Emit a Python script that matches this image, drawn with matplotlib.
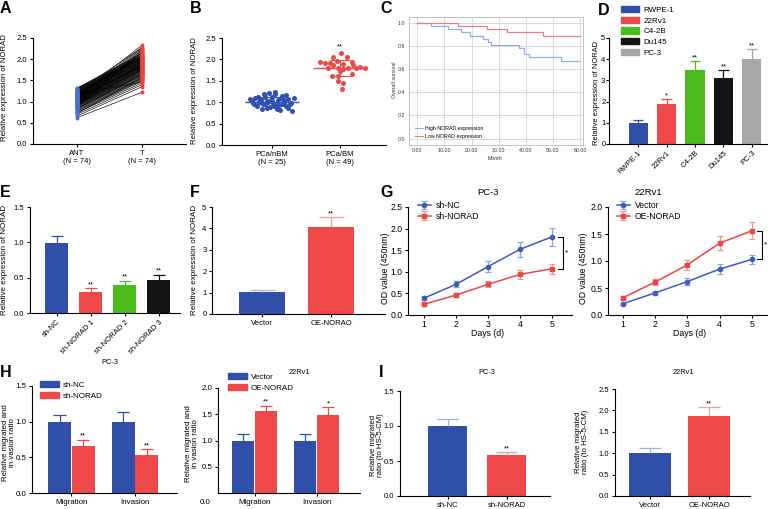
import numpy as np
import matplotlib
matplotlib.use("Agg")
import matplotlib.pyplot as plt
from matplotlib.patches import Patch
from matplotlib.lines import Line2D

plt.rcParams["font.family"] = ["Liberation Sans", "DejaVu Sans"]

# ---------------- data ----------------
# A: paired ANT / T expression (74 pairs)
ant = [0.62, 0.66, 0.70, 0.74, 0.76, 0.78, 0.80, 0.82, 0.84, 0.85,
       0.86, 0.88, 0.89, 0.90, 0.91, 0.92, 0.93, 0.94, 0.95, 0.96,
       0.97, 0.98, 0.99, 1.00, 1.00, 1.01, 1.02, 1.03, 1.04, 1.05,
       1.06, 1.07, 1.08, 1.09, 1.10, 1.11, 1.12, 1.13, 1.14, 1.15,
       1.16, 1.17, 1.18, 1.19, 1.20, 1.21, 1.22, 1.23, 1.24, 1.25,
       1.26, 1.27, 1.28, 1.29, 1.30, 1.31, 1.32, 0.87, 0.93, 0.97,
       1.02, 1.06, 1.10, 1.14, 1.18, 0.83, 0.95, 1.04, 1.12, 1.20,
       0.72, 1.08, 1.16, 1.24]
tum = [1.22, 1.35, 1.40, 1.44, 1.48, 1.50, 1.52, 1.54, 1.56, 1.58,
       1.60, 1.62, 1.63, 1.65, 1.66, 1.68, 1.69, 1.70, 1.72, 1.73,
       1.74, 1.75, 1.76, 1.78, 1.79, 1.80, 1.81, 1.82, 1.83, 1.84,
       1.85, 1.86, 1.87, 1.88, 1.89, 1.90, 1.91, 1.92, 1.93, 1.94,
       1.95, 1.96, 1.97, 1.98, 1.99, 2.00, 2.01, 2.02, 2.03, 2.04,
       2.05, 2.06, 2.07, 2.08, 2.10, 2.12, 2.14, 2.16, 2.18, 2.20,
       2.22, 2.25, 2.28, 2.33, 1.46, 1.64, 1.77, 1.87, 1.95, 2.02,
       1.57, 1.83, 2.09, 2.27]
a_labels = ["ANT\n(N = 74)", "T\n(N = 74)"]

# B: scatter (offset within category, value)
nbm_dx = [-0.33, -0.28, -0.25, -0.22, -0.18, -0.15, -0.12, -0.10, -0.07, -0.05,
          -0.03, 0.00, 0.02, 0.04, 0.07, 0.09, 0.12, 0.14, 0.17, 0.20,
          0.23, 0.26, 0.29, 0.32, -0.30, -0.20, -0.14, -0.08, -0.02, 0.05,
          0.11, 0.18, 0.24, -0.26, -0.16, -0.06, 0.03, 0.13, 0.21, 0.28,
          -0.10, 0.00, 0.08, -0.19, 0.16]
nbm_y = [1.08, 0.97, 1.10, 0.92, 1.05, 0.85, 1.18, 0.95, 1.02, 1.22,
         0.88, 1.12, 0.99, 1.25, 0.93, 1.06, 0.82, 1.15, 1.00, 0.90,
         1.08, 0.96, 0.80, 1.10, 1.02, 1.13, 0.98, 0.86, 1.05, 1.19,
         0.94, 1.04, 0.87, 0.95, 1.07, 1.00, 0.91, 1.09, 1.16, 0.97,
         1.11, 1.03, 0.84, 1.00, 0.95]
bm_dx = [0.01, -0.10, 0.10, -0.30, -0.22, -0.15, -0.05, 0.05, 0.17, -0.10,
         0.19, -0.03, 0.05, 0.12, 0.30, 0.24, 0.00, -0.12, -0.03, -0.18,
         -0.03, 0.05, 0.03, 0.18, 0.36]
bm_y = [2.15, 2.06, 2.06, 1.93, 1.92, 1.91, 1.96, 1.90, 1.94, 1.87,
        1.86, 1.79, 1.77, 1.79, 1.82, 1.79, 1.73, 1.62, 1.61, 1.80,
        1.50, 1.46, 1.30, 1.65, 1.81]
b_labels = ["PCa/nBM\n(N = 25)", "PCa/BM\n(N = 49)"]

# C: Kaplan-Meier steps
high_t = [0, 5.0, 11.2, 16.1, 19.4, 24.1, 26.2, 27.1, 37.5, 39.5, 41.3, 53.0, 60]
high_s = [1.0, 0.971, 0.943, 0.917, 0.886, 0.857, 0.83, 0.806, 0.78, 0.73, 0.70, 0.67, 0.67]
low_t = [0, 15.1, 25.8, 33.0, 46.2, 60]
low_s = [1.0, 0.971, 0.943, 0.917, 0.886, 0.886]

# D: cell lines
d_cells = ["RWPE-1", "22Rv1", "C4-2B", "Du145", "PC-3"]
d_vals = [1.00, 1.88, 3.51, 3.13, 4.01]
d_err = [0.13, 0.24, 0.39, 0.35, 0.46]
d_star = ["", "*", "**", "**", "**"]

# E: knockdown
e_names = ["sh-NC", "sh-NORAD 1", "sh-NORAD 2", "sh-NORAD 3"]
e_vals = [0.99, 0.30, 0.40, 0.47]
e_err = [0.10, 0.05, 0.055, 0.07]
e_star = ["", "**", "**", "**"]

# F: overexpression
f_names = ["Vector", "OE-NORAO"]
f_vals = [1.02, 4.07]
f_err = [0.11, 0.45]

# G: CCK-8
days = [1, 2, 3, 4, 5]
g_nc = [0.39, 0.71, 1.12, 1.52, 1.81]
g_nc_err = [0.05, 0.07, 0.13, 0.17, 0.21]
g_sh = [0.25, 0.46, 0.71, 0.94, 1.07]
g_sh_err = [0.03, 0.05, 0.07, 0.10, 0.11]
g_vec = [0.21, 0.41, 0.62, 0.85, 1.03]
g_vec_err = [0.02, 0.04, 0.06, 0.09, 0.08]
g_oe = [0.32, 0.61, 0.93, 1.33, 1.56]
g_oe_err = [0.03, 0.06, 0.09, 0.13, 0.16]

# H: migration / invasion
h_groups = ["Migration", "Invasion"]
h_nc = [1.00, 1.00]
h_nc_err = [0.09, 0.13]
h_sh = [0.66, 0.535]
h_sh_err = [0.085, 0.08]
h_sh_star = ["**", "**"]
h_vec = [1.00, 1.00]
h_vec_err = [0.12, 0.12]
h_oe = [1.57, 1.49]
h_oe_err = [0.09, 0.15]
h_oe_star = ["**", "*"]

# I: migrated ratio
i_pc3_names = ["sh-NC", "sh-NORAD"]
i_pc3_vals = [1.00, 0.58]
i_pc3_err = [0.10, 0.05]
i_rv_names = ["Vector", "OE-NORAO"]
i_rv_vals = [1.00, 1.86]
i_rv_err = [0.11, 0.22]

# ---------------- style ----------------
BLUE = "#2f4fa8"
RED = "#ee4848"
GREEN = "#4cbc1c"
BLACK = "#141414"
GRAY = "#a7a7a9"
LBLUE = "#9fb1e3"
LRED = "#f39a9a"

W, H = 776, 509
fig = plt.figure(figsize=(7.76, 5.09), dpi=100)


def px_ax(x0, y0, x1, y1):
    return fig.add_axes([x0 / W, 1 - y1 / H, (x1 - x0) / W, (y1 - y0) / H])


def prism(ax, size=5.5):
    ax.spines[["top", "right"]].set_visible(False)
    ax.spines[["left", "bottom"]].set_linewidth(0.8)
    ax.tick_params(width=0.8, length=2.5, labelsize=size, pad=1.5)


def ftext(x, y, s, **kw):
    fig.text(x / W, 1 - y / H, s, **kw)


def ylab(x, y, s, size=5.6, **kw):
    ftext(x, y, s, rotation=90, ha="center", va="center", fontsize=size, **kw)


def letter(x, y, s):
    ftext(x, y, s, fontsize=11.5, fontweight="bold", ha="left", va="baseline")


def bars(ax, pos, vals, errs, colors, ecolors, width, stars=None, size=5.5):
    ax.bar(pos, vals, width=width, color=colors, linewidth=0, zorder=2)
    for i, (p, v, e) in enumerate(zip(pos, vals, errs)):
        ec = ecolors[i] if isinstance(ecolors, list) else ecolors
        ax.vlines(p, v, v + e, color=ec, lw=0.9, zorder=3)
        ax.hlines(v + e, p - width * 0.27, p + width * 0.27, color=ec, lw=0.9, zorder=3)
        if stars and stars[i]:
            ax.text(p, v + e, stars[i], ha="center", va="bottom", fontsize=size)


# ---------------- A ----------------
ax = px_ax(33, 38, 186, 144)
prism(ax)
for a, t in zip(ant, tum):
    ax.plot([0, 1], [a, t], color="k", lw=0.45, zorder=1)
ax.scatter(np.zeros(len(ant)), ant, s=8, color="#4d6fcc", lw=0, zorder=3)
ax.scatter(np.ones(len(tum)), tum, s=8, color="#ef4444", lw=0, zorder=3)
ax.set_xlim(-0.677, 1.677)
ax.set_ylim(0, 2.5)
ax.set_xticks([0, 1])
ax.set_xticklabels(a_labels)
ax.set_yticks(np.arange(0, 2.51, 0.5))
ylab(5, 88, "Relative expression of NORAD")

# ---------------- B ----------------
ax = px_ax(222, 38, 386, 145)
prism(ax)
ax.scatter(np.array(nbm_dx), nbm_y, s=13, color="#3050b4", lw=0, zorder=3)
ax.scatter(1 + np.array(bm_dx), bm_y, s=13, color="#ef4646", lw=0, zorder=3)
for c, yv, col in [(0, nbm_y, "#3050b4"), (1, bm_y, "#ef4646")]:
    m, sd = np.mean(yv), np.std(yv)
    ax.hlines(m, c - 0.4, c + 0.4, color=col, lw=1.0, zorder=2)
    ax.vlines(c, m - sd, m + sd, color=col, lw=0.8, zorder=2)
    ax.hlines([m - sd, m + sd], c - 0.15, c + 0.15, color=col, lw=0.8, zorder=2)
ax.text(1, 2.22, "**", ha="center", va="bottom", fontsize=5.5)
ax.set_xlim(-0.735, 1.676)
ax.set_ylim(0, 2.5)
ax.set_xticks([0, 1])
ax.set_xticklabels(b_labels)
ax.set_yticks(np.arange(0, 2.51, 0.5))
ylab(194, 91, "Relative expression of NORAD")

# ---------------- C ----------------
ax = px_ax(409, 17, 583, 145)
ax.step(high_t, high_s, where="post", color="#8fb0e0", lw=0.9)
ax.step(low_t, low_s, where="post", color="#e57f86", lw=0.9)
ax.set_xlim(-3.06, 61.1)
ax.set_ylim(-0.056, 1.049)
ax.set_xticks(np.arange(0, 61, 10))
ax.set_xticklabels(["%.2f" % v for v in np.arange(0, 61, 10)])
ax.set_yticks(np.arange(0, 1.01, 0.2))
ax.set_yticklabels(["%.1f" % v for v in np.arange(0, 1.01, 0.2)])
ax.grid(color="#d4d4d4", lw=0.6)
ax.set_axisbelow(True)
for s in ax.spines.values():
    s.set_color("#b8b8b8")
    s.set_linewidth(0.6)
ax.tick_params(length=0, labelsize=3.8, pad=2.5, labelcolor="#333333")
ax.legend([Line2D([], [], color="#8fb0e0", lw=0.8), Line2D([], [], color="#e57f86", lw=0.8)],
          ["High NORAD expression", "Low NORAD expression"],
          loc="lower left", bbox_to_anchor=(0.02, 0.03), frameon=False, fontsize=3.8,
          handlelength=1.5, handletextpad=0.4, labelspacing=0.45, borderpad=0)
ylab(394, 80, "Overall survival", size=3.8, color="#333333")
ftext(495, 158, "Month", ha="center", va="center", fontsize=3.8, color="#333333")

# ---------------- D ----------------
ax = px_ax(609, 38, 767, 144)
prism(ax)
ax.tick_params(axis="y", length=2, pad=0.6)
d_cols = [BLUE, RED, GREEN, BLACK, GRAY]
bars(ax, np.arange(5), d_vals, d_err, d_cols, d_cols, 0.67, d_star)
ax.set_xlim(-1.02, 4.53)
ax.set_ylim(0, 5)
ax.set_xticks(np.arange(5))
ax.set_xticklabels(d_cells, rotation=45, ha="right", rotation_mode="anchor")
ax.set_yticks(range(6))
fig.legend([Patch(color=c) for c in d_cols], d_cells, loc="upper left",
           bbox_to_anchor=(621 / W, 1 - 6 / H), frameon=False, fontsize=5.8,
           handlelength=2.2, handleheight=0.8, labelspacing=0.35, handletextpad=0.6,
           borderpad=0, borderaxespad=0)
ylab(597, 93, "Relative expression of NORAD", size=5.4)

# ---------------- E ----------------
ax = px_ax(30, 207, 180, 313)
prism(ax)
e_cols = [BLUE, RED, GREEN, BLACK]
bars(ax, np.arange(4), e_vals, e_err, e_cols, e_cols, 0.68, e_star)
ax.set_xlim(-0.79, 3.62)
ax.set_ylim(0, 1.5)
ax.set_xticks(np.arange(4))
ax.set_xticklabels(e_names, rotation=45, ha="right", rotation_mode="anchor")
ax.set_yticks(np.arange(0, 1.51, 0.5))
ylab(5, 260, "Relative expression of NORAD", size=5.8)

# ---------------- F ----------------
ax = px_ax(212, 207, 385, 314)
prism(ax)
bars(ax, np.arange(2), f_vals, f_err, [BLUE, RED], [LBLUE, LRED], 0.67, ["", "**"])
ax.set_xlim(-0.725, 1.78)
ax.set_ylim(0, 5)
ax.set_xticks(np.arange(2))
ax.set_xticklabels(f_names)
ax.set_yticks(range(6))
ylab(195, 260, "Relative expression of NORAD", size=5.8)

# ---------------- G ----------------
def growth(ax, a, a_err, b, b_err, names, top):
    ax.errorbar(days, a, yerr=a_err, color="#3d5bb8", ecolor="#8ea3dc", marker="o", ms=3,
                lw=1.1, elinewidth=0.9, capsize=2.5, capthick=0.9, label=names[0])
    ax.errorbar(days, b, yerr=b_err, color="#ef4444", ecolor="#f39595", marker="s", ms=3,
                lw=1.1, elinewidth=0.9, capsize=2.5, capthick=0.9, label=names[1])
    prism(ax, 6.2)
    ax.tick_params(axis="x", pad=1)
    ax.set_ylim(0, top)
    ax.set_xticks(days)
    ax.set_yticks(np.arange(0, top + 0.01, 0.5))


ax = px_ax(408, 207, 572, 315)
growth(ax, g_nc, g_nc_err, g_sh, g_sh_err, ["sh-NC", "sh-NORAD"], 2.5)
ax.set_xlim(0.5, 5.625)
hi, lo = max(g_nc[-1], g_sh[-1]), min(g_nc[-1], g_sh[-1])
ax.plot([5.19, 5.34, 5.34, 5.19], [hi, hi, lo, lo], color="k", lw=0.8, clip_on=False)
ax.text(5.45, (hi + lo) / 2, "*", ha="center", va="center", fontsize=6)
ax.legend(loc="upper left", bbox_to_anchor=(418 / W, 1 - 201 / H),
          bbox_transform=fig.transFigure, frameon=False, fontsize=6.2,
          handlelength=1.5, handletextpad=0.6, labelspacing=0.2, borderpad=0, borderaxespad=0)
ftext(488, 192, "PC-3", ha="center", va="center", fontsize=6.8)
ftext(488, 334, "Days (d)", ha="center", va="center", fontsize=6.3)
ylab(386, 268, "OD value (450nm)", size=6.3)

ax = px_ax(608, 207, 767, 315)
growth(ax, g_vec, g_vec_err, g_oe, g_oe_err, ["Vector", "OE-NORAD"], 2.0)
ax.set_xlim(0.535, 5.47)
hi, lo = max(g_vec[-1], g_oe[-1]), min(g_vec[-1], g_oe[-1])
ax.plot([5.155, 5.31, 5.31, 5.155], [hi, hi, lo, lo], color="k", lw=0.8, clip_on=False)
ax.text(5.42, (hi + lo) / 2, "*", ha="center", va="center", fontsize=6)
ax.legend(loc="upper left", bbox_to_anchor=(617 / W, 1 - 201 / H),
          bbox_transform=fig.transFigure, frameon=False, fontsize=6.2,
          handlelength=1.5, handletextpad=0.6, labelspacing=0.2, borderpad=0, borderaxespad=0)
ftext(648, 192, "22Rv1", ha="center", va="center", fontsize=6.8)
ftext(690, 334, "Days (d)", ha="center", va="center", fontsize=6.3)
ylab(584, 268, "OD value (450nm)", size=6.3)

# ---------------- H ----------------
def grouped(ax, a, a_err, b, b_err, b_star, names, colors, anchor):
    pos = np.arange(len(h_groups))
    bars(ax, pos - 0.185, a, a_err, colors[0], colors[0], 0.36)
    bars(ax, pos + 0.185, b, b_err, colors[1], colors[1], 0.36, b_star, 5.7)
    prism(ax, 5.7)
    ax.set_xticks(pos)
    ax.set_xticklabels(h_groups)
    ax.legend([Patch(color=colors[0]), Patch(color=colors[1])], names, loc="upper left",
              bbox_to_anchor=anchor, bbox_transform=fig.transFigure, frameon=False,
              fontsize=5.8, handlelength=2.3, handleheight=0.75, labelspacing=0.45,
              handletextpad=0.5, borderpad=0, borderaxespad=0)


ax = px_ax(32, 386, 177, 493)
grouped(ax, h_nc, h_nc_err, h_sh, h_sh_err, h_sh_star, ["sh-NC", "sh-NORAD"],
        [BLUE, RED], (40 / W, 1 - 381 / H))
ax.set_xlim(-0.62, 1.66)
ax.set_ylim(0, 1.5)
ax.set_yticks(np.arange(0, 1.51, 0.5))
ftext(110, 362, "PC-3", ha="center", va="center", fontsize=5.3)
ylab(9, 443, "Relative migrated and\nin vasion ratio", size=5.7, linespacing=1.05)

ax = px_ax(218, 388, 360, 493)
grouped(ax, h_vec, h_vec_err, h_oe, h_oe_err, h_oe_star, ["Vector", "OE-NORAD"],
        [BLUE, RED], (228 / W, 1 - 373 / H))
ax.set_xlim(-0.59, 1.70)
ax.set_ylim(0, 2.0)
ax.set_yticks([0.5, 1.0, 1.5, 2.0])
ftext(205, 503, "0.0", ha="center", va="center", fontsize=5.7)
ftext(299, 372, "22Rv1", ha="center", va="center", fontsize=5.3)
ylab(192, 444, "Relative migrated and\nin vasion ratio", size=5.7, linespacing=1.05)

# ---------------- I ----------------
ax = px_ax(400, 391, 550, 496)
prism(ax)
bars(ax, np.arange(2), i_pc3_vals, i_pc3_err, [BLUE, RED], [LBLUE, LRED], 0.66, ["", "**"])
ax.set_xlim(-0.81, 1.73)
ax.set_ylim(0, 1.5)
ax.set_xticks(np.arange(2))
ax.set_xticklabels(i_pc3_names)
ax.set_yticks(np.arange(0, 1.51, 0.5))
ftext(487, 372, "PC-3", ha="center", va="center", fontsize=5.3)
ylab(377, 445, "Relative migrated\nratio (to HS-5-CM)", size=5.6, linespacing=1.05)

ax = px_ax(615, 389, 750, 496)
prism(ax)
bars(ax, np.arange(2), i_rv_vals, i_rv_err, [BLUE, RED], [LBLUE, LRED], 0.71, ["", "**"])
ax.set_xlim(-0.59, 1.69)
ax.set_ylim(0, 2.5)
ax.set_xticks(np.arange(2))
ax.set_xticklabels(i_rv_names)
ax.set_yticks(np.arange(0, 2.51, 0.5))
ftext(683, 372, "22Rv1", ha="center", va="center", fontsize=5.3)
ylab(582, 442, "Relative migrated\nratio (to HS-5-CM)", size=5.7, linespacing=1.05)

# ---------------- panel letters ----------------
for s, x, y in [("A", 0, 13), ("B", 190, 13), ("C", 380, 13), ("D", 598, 15),
                ("E", 0, 197), ("F", 190, 197), ("G", 380, 197),
                ("H", 0, 377), ("I", 379, 377)]:
    letter(x, y, s)

fig.savefig("out.png", dpi=100)
